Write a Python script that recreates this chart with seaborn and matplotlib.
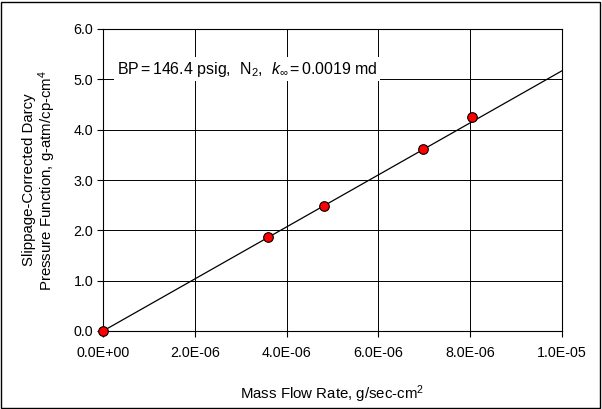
import matplotlib
matplotlib.use("Agg")
import matplotlib.pyplot as plt
import seaborn as sns
import pandas as pd
from matplotlib.ticker import FuncFormatter, MultipleLocator
from matplotlib.patches import Rectangle

# data
mass_flow = [0.0, 3.59e-6, 4.81e-6, 6.97e-6, 8.04e-6]
pressure_fn = [0.0, 1.87, 2.48, 3.61, 4.26]
fit_x = [0.0, 1.0e-5]
fit_y = [0.0, 5.17]

sns.set_theme(style="white")
plt.rcParams['font.family'] = ['Liberation Sans', 'DejaVu Sans']
plt.rcParams['mathtext.fontset'] = 'custom'
plt.rcParams['mathtext.rm'] = 'Liberation Sans'
plt.rcParams['mathtext.it'] = 'Liberation Sans:italic'

fig = plt.figure(figsize=(6.02, 4.09), dpi=100)
ax = fig.add_axes([103/602, 1-331/409, (562-103)/602, (331-29)/409])

df_pts = pd.DataFrame({"x": mass_flow, "y": pressure_fn})
df_fit = pd.DataFrame({"x": fit_x, "y": fit_y})
sns.lineplot(data=df_fit, x="x", y="y", ax=ax, color="black", linewidth=0.9, zorder=3)
sns.scatterplot(data=df_pts, x="x", y="y", ax=ax, color="#ff0000", edgecolor="black",
                linewidth=0.8, s=48, zorder=4, clip_on=False)

ax.set_xlim(0, 1.0e-5)
ax.set_ylim(0, 6.0)
ax.xaxis.set_major_locator(MultipleLocator(2e-6))
ax.yaxis.set_major_locator(MultipleLocator(1.0))
ax.xaxis.set_major_formatter(FuncFormatter(lambda v, p: f"{v:.1E}"))
ax.yaxis.set_major_formatter(FuncFormatter(lambda v, p: f"{v:.1f}"))
ax.grid(True, color="black", linewidth=0.7)
ax.set_axisbelow(True)
for s in ax.spines.values():
    s.set_color("black")
    s.set_linewidth(0.8)
ax.tick_params(axis="both", direction="out", length=4, width=0.8, color="black",
               labelsize=10.3, labelcolor="black", pad=3)
ax.tick_params(axis="x", bottom=True, pad=7)
ax.tick_params(axis="y", left=True, pad=3)

ax.set_xlabel("Mass Flow Rate, g/sec-cm$^2$", fontsize=10.8, color="black", labelpad=17)
ax.set_ylabel("Slippage-Corrected Darcy\nPressure Function, g-atm/cp-cm$^4$",
              fontsize=10.8, color="black", labelpad=11, linespacing=1.05)

ax.text(0.3e-6, 5.2,
        r"BP$\,$=$\,$146.4 psig,  N$_2$,  $k_\infty$$\,$=$\,$0.0019 md",
        fontsize=11.5, color="black", va="center", ha="left",
        bbox=dict(facecolor="white", edgecolor="none", pad=2), zorder=5)

fig.patches.append(Rectangle((0.002, 0.003), 0.995, 0.993, transform=fig.transFigure,
                             fill=False, edgecolor="black", linewidth=1.0))

fig.savefig("out.png", dpi=100)
